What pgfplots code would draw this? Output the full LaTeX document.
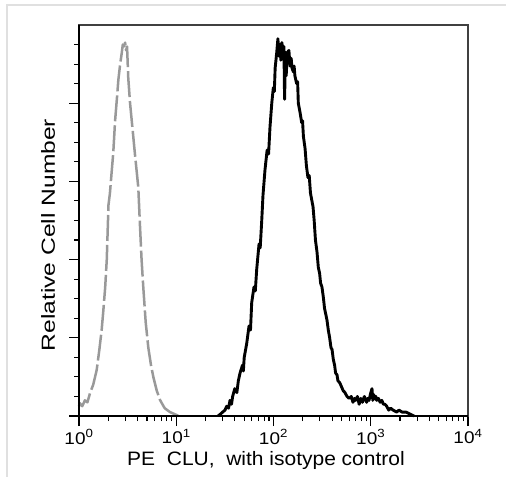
\documentclass[border=0pt]{standalone}
\usepackage{pgfplots}
\pgfplotsset{compat=1.18}
\usepackage{fontspec}
\setmainfont{Liberation Sans}
\newcommand{\tl}[1]{\scalebox{1.12}[1]{10\textsuperscript{#1}}}
\begin{document}
\begin{tikzpicture}
\useasboundingbox (0,0) rectangle (506bp,477bp);
\draw[black!12, line width=1.5bp] (7bp,0) -- (7bp,472bp) -- (506bp,472bp);
\begin{axis}[
  at={(79bp,61bp)}, anchor=south west,
  scale only axis, width=389bp, height=391bp,
  xmode=log, xmin=1, xmax=10000,
  ymin=0, ymax=200,
  xtick={1,10,100,1000,10000},
  xticklabels={\tl{0},\tl{1},\tl{2},\tl{3},\tl{4}},
  ytick={0,40,80,120,160}, yticklabels={},
  minor ytick={10,20,30,50,60,70,90,100,110,130,140,150,170,180,190},
  xtick pos=bottom, ytick pos=left,
  tick align=outside,
  major tick length=10bp, minor tick length=5bp,
  every tick/.style={black, line width=1.1bp},
  axis line style={black!75, line width=1.3bp},
  xticklabel style={font=\fontsize{17}{19}\selectfont, yshift=0bp},
  clip=false,
]
\addplot[gray!80, line width=2.5bp, dash pattern=on 26bp off 4bp, line join=round] coordinates {
(1.00,5)(1.02,6.6)(1.08,5)(1.15,8)(1.22,7)(1.30,11.8)(1.40,16)(1.52,23.5)(1.62,34)(1.71,44)(1.78,54)(1.86,66)(1.93,80)(2.01,108)(2.08,114)(2.16,124)(2.25,134.5)(2.35,151)(2.45,162)(2.54,172)(2.65,180)(2.75,185.6)(2.82,190)(2.90,189)(2.98,191)(3.05,187)(3.12,189)(3.21,173)(3.35,160)(3.55,147)(3.76,134)(4.07,117)(4.24,97)(4.40,80)(4.58,66)(4.85,48)(5.16,35)(5.50,26)(5.81,20)(6.30,13)(6.81,8.2)(7.60,4)(8.63,2)(10.1,0.5)(11,0)
};
\addplot[black, line width=2.9bp, line join=round] coordinates {
(26.9,0)(28.5,1)(30,2)(31.7,3)(33,5)(34.5,4)(35.7,8)(37,6)(38,10)(40,14)(42,12)(43.5,18)(45.3,22)(48,26)(49,23)(50,30)(53,37)(56,46)(58,44)(59.7,58)(63,66)(65,64)(67.2,75)(71,88)(73,86)(75.7,100)(78,113)(81.8,126)(86,136)(89,134)(92.1,148)(96,160)(99.6,168)(102,166)(104,178)(108,186)(111,193)(114,184)(117,190)(119,182)(122,191)(125,186)(128,189)(130,162)(133,186)(135,174)(139,186)(144,187)(148,179)(152,183)(155,178)(160,176)(163,179)(166,174)(173,170)(177,171)(180,160)(188,155)(195,150)(199,151)(203,143)(211,137)(218,128)(226,122)(233,123)(240,114)(255,107)(262,100)(270,90)(280,84)(289,76)(298,73)(305,68)(315,66)(325,61)(335,55)(345,52)(355,49)(366,44)(378,40)(390,35)(400,34)(412,29)(425,26)(435,22)(450,21)(460,18)(480,17)(500,15)(520,13)(543,12)(570,10)(600,9)(630,10)(657,7)(680,9)(700,8)(730,10)(760,6)(790,9)(820,7)(860,10)(908,7)(930,9)(960,8)(990,11)(1030,14)(1050,8)(1070,11)(1100,9)(1130,10)(1151,8)(1200,9)(1250,7)(1300,8)(1350,6)(1400,6)(1459,5)(1530,3)(1600,4)(1700,3)(1849,2)(1950,3)(2100,2)(2300,2)(2533,1)(2786,0)
};
\draw[black, line width=2.2bp] (rel axis cs:0,1) -- (rel axis cs:0,0) -- (rel axis cs:1,0);
\end{axis}
\node[font=\fontsize{19.5}{22}\selectfont] at (266bp,17bp) {\scalebox{1.08}[1]{PE\ \ CLU,\ \ with isotype control}};
\node[font=\fontsize{19}{22}\selectfont, rotate=90] at (48bp,242bp) {\scalebox{1.3}[1]{Relative Cell Number}};
\end{tikzpicture}
\end{document}
